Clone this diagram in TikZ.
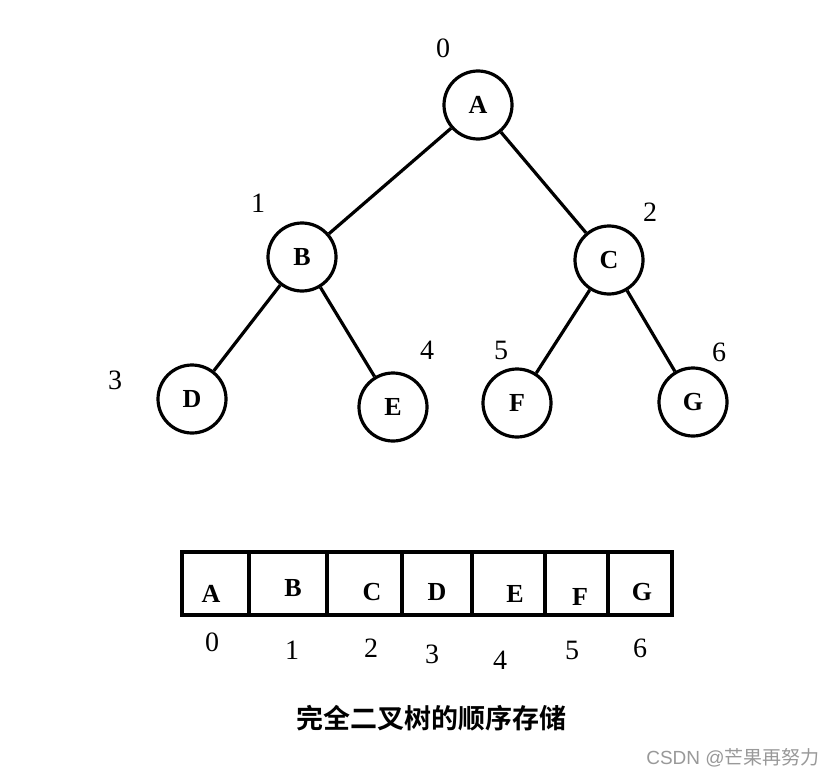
\documentclass[tikz,border=0pt]{standalone}
\usepackage{fontspec}
\setmainfont{Liberation Serif}
\newfontfamily\cjk{Noto Sans CJK SC}
\newfontfamily\cjkb{Noto Sans CJK SC Bold}
\begin{document}
\begin{tikzpicture}[x=1pt,y=-1pt,
  tn/.style={circle,draw,line width=3.2pt,minimum size=68pt,inner sep=0pt,font=\bfseries\fontsize{26}{26}\selectfont},
  lbl/.style={font=\fontsize{28}{28}\selectfont},
  cell/.style={font=\bfseries\fontsize{26}{26}\selectfont},
  edge/.style={line width=3.2pt}]
\useasboundingbox[fill=white] (0,0) rectangle (834,778);
\node[tn] (A) at (478,105) {A};
\node[tn] (B) at (302,257) {B};
\node[tn] (C) at (609,260) {C};
\node[tn] (D) at (192,399) {D};
\node[tn] (E) at (393,407) {E};
\node[tn] (F) at (517,403) {F};
\node[tn] (G) at (693,402) {G};
\draw[edge] (A) -- (B); \draw[edge] (A) -- (C);
\draw[edge] (B) -- (D); \draw[edge] (B) -- (E);
\draw[edge] (C) -- (F); \draw[edge] (C) -- (G);
\node[lbl] (l0) at (443,48) {0};
\node[lbl] (l1) at (258,203) {1};
\node[lbl] (l2) at (650,212) {2};
\node[lbl] (l3) at (115,380) {3};
\node[lbl] (l4) at (427,350) {4};
\node[lbl] (l5) at (501,350) {5};
\node[lbl] (l6) at (719,352) {6};
\draw[line width=4pt] (182,552) rectangle (672,615);
\foreach \x in {249,327,402,472,545,608} \draw[line width=4pt] (\x,552) -- (\x,615);
\node[cell] (cA) at (211,594) {A};
\node[cell] (cB) at (293,588) {B};
\node[cell] (cC) at (372,592) {C};
\node[cell] (cD) at (437,592) {D};
\node[cell] (cE) at (515,594) {E};
\node[cell] (cF) at (580,597) {F};
\node[cell] (cG) at (642,592) {G};
\node[lbl] (n0) at (212,642) {0};
\node[lbl] (n1) at (292,650) {1};
\node[lbl] (n2) at (371,648) {2};
\node[lbl] (n3) at (432,654) {3};
\node[lbl] (n4) at (500,660) {4};
\node[lbl] (n5) at (572,650) {5};
\node[lbl] (n6) at (640,648) {6};
\node[font=\cjkb\fontsize{27}{27}\selectfont] (cap) at (431,718) {完全二叉树的顺序存储};
\node[font=\cjk\fontsize{19}{19}\selectfont,text=gray!80] (wm) at (733,758) {\fontspec{Liberation Sans}CSDN @\cjk 芒果再努力};
\end{tikzpicture}
\end{document}
